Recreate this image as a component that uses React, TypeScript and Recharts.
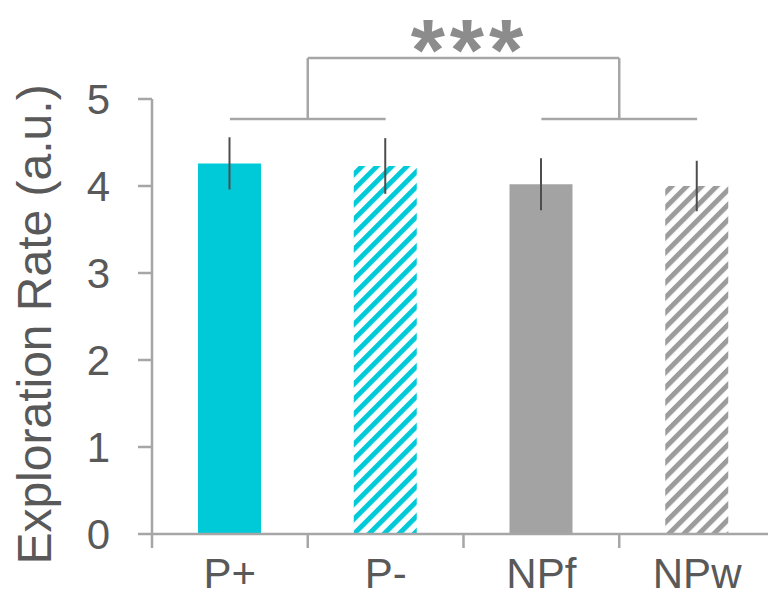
import React from 'react';
import { BarChart, Bar, XAxis, YAxis, Cell, ErrorBar, ReferenceLine, Label } from 'recharts';

// Exploration rate per group (mean ± s.e.m.)
const categories = ['P+', 'P-', 'NPf', 'NPw'];
const meanRate = [4.26, 4.23, 4.02, 4.0];
const semRate = [0.3, 0.32, 0.3, 0.29];
const yTicks = [0, 1, 2, 3, 4, 5];
const boundaryTicks = [0, 1, 2, 3, 4];

// Significance bracket: (P+, P-) vs (NPf, NPw)
const groupBracketLevel = 4.77;
const overallBracketLevel = 5.47;
const significance = '***';

const CYAN = '#00C9D8';
const GREY = '#A3A3A3';
const AXIS = '#A6A6A6';
const TEXT = '#595959';
const FONT = '"Liberation Sans", Arial, sans-serif';

const fills = [CYAN, 'url(#hatchCyan)', GREY, 'url(#hatchGrey)'];

// pos: centre of each category on a continuous 0..4 scale (used for brackets / boundary ticks)
const data = categories.map((name, i) => ({ name, pos: i + 0.5, mean: meanRate[i], sem: semRate[i] }));

// plot geometry: 435px for 5 units -> tick length of 14px in data units
const PX_PER_UNIT = 87;
const tickLen = 14 / PX_PER_UNIT;

const Hatch = ({ id, color }: { id: string; color: string }) => (
  <pattern id={id} patternUnits="userSpaceOnUse" width={10.6} height={10.6} patternTransform="rotate(45)">
    <rect width={10.6} height={10.6} fill="#fff" />
    <rect width={5} height={10.6} fill={color} />
  </pattern>
);

export default function App() {
  const lineProps = { stroke: AXIS, strokeWidth: 2.5, ifOverflow: 'visible' as const, xAxisId: 'grid' };
  return (
    <div style={{ position: 'absolute', left: 0, top: 0, width: 768, height: 596, overflow: 'hidden', background: '#fff' }}>
      <svg width={0} height={0} style={{ position: 'absolute' }}>
        <defs>
          <Hatch id="hatchCyan" color={CYAN} />
          <Hatch id="hatchGrey" color="#9C9C9C" />
        </defs>
      </svg>
      <BarChart
        width={790}
        height={596}
        data={data}
        margin={{ top: 99, right: 15, bottom: 0, left: 0 }}
        style={{ fontFamily: FONT }}
      >
        <XAxis
          dataKey="name"
          height={62}
          tickLine={false}
          tickSize={14}
          tickMargin={10}
          axisLine={{ stroke: AXIS, strokeWidth: 2.5 }}
          tick={{ fill: TEXT, fontSize: 42, fontFamily: FONT }}
          interval={0}
        />
        <XAxis
          xAxisId="grid"
          dataKey="pos"
          type="number"
          domain={[0, 4]}
          ticks={boundaryTicks}
          allowDataOverflow
          hide
        />
        <YAxis
          width={152}
          domain={[0, 5]}
          ticks={yTicks}
          interval={0}
          tickSize={14}
          tickMargin={28}
          axisLine={{ stroke: AXIS, strokeWidth: 2.5 }}
          tickLine={{ stroke: AXIS, strokeWidth: 2.5 }}
          tick={{ fill: TEXT, fontSize: 42, fontFamily: FONT }}
        >
          <Label
            value="Exploration Rate (a.u.)"
            angle={-90}
            position="center"
            dx={-42}
            dy={8}
            style={{ fill: TEXT, fontSize: 48, fontFamily: FONT }}
          />
        </YAxis>
        <Bar dataKey="mean" barSize={63} isAnimationActive={false}>
          {data.map((d, i) => (
            <Cell key={d.name} fill={fills[i]} />
          ))}
          <ErrorBar dataKey="sem" width={0} stroke="#4D4D4D" strokeWidth={2} direction="y" isAnimationActive={false} />
        </Bar>
        {boundaryTicks.map((b) => (
          <ReferenceLine key={`t${b}`} {...lineProps} segment={[{ x: b, y: 0 }, { x: b, y: -tickLen }]} />
        ))}
        <ReferenceLine {...lineProps} segment={[{ x: 0.5, y: groupBracketLevel }, { x: 1.5, y: groupBracketLevel }]} />
        <ReferenceLine {...lineProps} segment={[{ x: 2.5, y: groupBracketLevel }, { x: 3.5, y: groupBracketLevel }]} />
        <ReferenceLine {...lineProps} segment={[{ x: 1, y: groupBracketLevel }, { x: 1, y: overallBracketLevel }]} />
        <ReferenceLine {...lineProps} segment={[{ x: 3, y: groupBracketLevel }, { x: 3, y: overallBracketLevel }]} />
        <ReferenceLine
          {...lineProps}
          segment={[{ x: 1, y: overallBracketLevel }, { x: 3, y: overallBracketLevel }]}
          label={{
            value: significance,
            position: 'top',
            offset: -22,
            dx: 6,
            fill: '#8C8C8C',
            fontSize: 88,
            fontWeight: 'bold',
            letterSpacing: 5,
            fontFamily: FONT,
          }}
        />
      </BarChart>
    </div>
  );
}
